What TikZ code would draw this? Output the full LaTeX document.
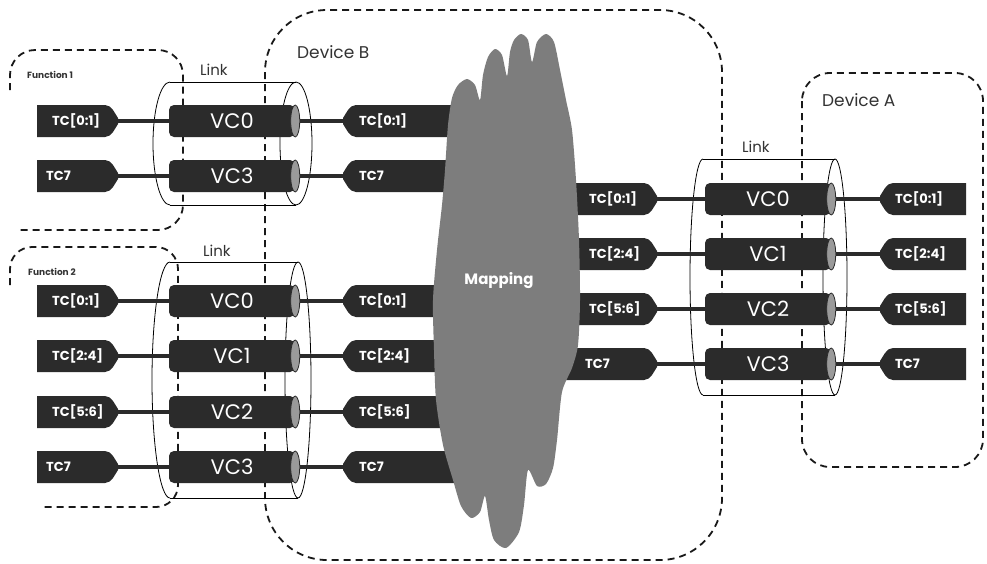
\documentclass[tikz,border=0pt]{standalone}
\usepackage{fontspec}
\setmainfont{Poppins}
\usetikzlibrary{calc}
\definecolor{bar}{HTML}{2B2B2B}
\definecolor{capc}{HTML}{9A9A9A}
\definecolor{cloudc}{HTML}{7D7D7D}
\definecolor{lbl}{HTML}{333333}
\tikzset{
 dashbox/.style={draw=black!90, line width=1.8pt, dash pattern=on 7pt off 5pt},
 cyl/.style={draw=black, line width=0.8pt},
 conn/.style={draw=bar, line width=3.5pt},
 tagtext/.style={text=white, font=\bfseries\fontsize{13}{13}\selectfont, anchor=west, inner sep=0pt},
 vcbox/.style={fill=bar, rounded corners=5pt, minimum width=126pt, minimum height=32pt, inner sep=0pt, text=white, font=\fontsize{21}{21}\selectfont},
 capfill/.style={fill=capc, draw=bar, line width=0.8pt},
 lbltext/.style={text=lbl, inner sep=0pt, anchor=west},
}
% tag with square left end and tip on the right
\newcommand{\tcR}[6]{%
  \fill[bar] (#2,#4-16) -- (#3-13,#4-16) .. controls (#3-6,#4-16) and (#3-3,#4-7) .. (#3,#4-3) -- (#3,#4+3) .. controls (#3-3,#4+7) and (#3-6,#4+16) .. (#3-13,#4+16) -- (#2,#4+16) -- cycle;
  \coordinate (#1) at (#3,#4);
  \node[tagtext] (#1t) at (#5,#4) {#6};
}
% tag with tip on the left and square right end
\newcommand{\tcL}[6]{%
  \fill[bar] (#3,#4-16) -- (#2+13,#4-16) .. controls (#2+6,#4-16) and (#2+3,#4-7) .. (#2,#4-3) -- (#2,#4+3) .. controls (#2+3,#4+7) and (#2+6,#4+16) .. (#2+13,#4+16) -- (#3,#4+16) -- cycle;
  \coordinate (#1) at (#2,#4);
  \node[tagtext] (#1t) at (#5,#4) {#6};
}
\newcommand{\vcbar}[4]{%
  \node[vcbox] (#1) at (#2,#3) {#4};
  \fill[capfill] (#1.east) ellipse [x radius=4.5pt, y radius=16pt];
}
\begin{document}
\begin{tikzpicture}[x=1pt,y=-1pt]
\useasboundingbox (0,0) rectangle (987,563);
\fill[white] (0,0) rectangle (987,563);

% dashed boundaries
\draw[dashbox, rounded corners=62pt] (265,10) rectangle (722,560);
\draw[dashbox, rounded corners=28pt] (802,73) rectangle (983,467);
\draw[dashbox, rounded corners=25pt] (10,90) |- (183,50) |- (16,230);
\draw[dashbox, rounded corners=22pt] (10,285) |- (178,247) |- (42,507);

% link cylinders
\draw[cyl] (170,82) -- (296,82) (170,205) -- (296,205);
\draw[cyl] (170,82) arc[start angle=90, end angle=270, x radius=17pt, y radius=61.5pt];
\draw[cyl] (296,143.5) ellipse [x radius=16pt, y radius=61.5pt];

\draw[cyl] (170,262) -- (298,262) (170,498) -- (298,498);
\draw[cyl] (170,262) arc[start angle=90, end angle=270, x radius=18pt, y radius=118pt];
\draw[cyl] (298,380) ellipse [x radius=13pt, y radius=118pt];

\draw[cyl] (703,159) -- (835,159) (703,395) -- (835,395);
\draw[cyl] (703,159) arc[start angle=90, end angle=270, x radius=13pt, y radius=118pt];
\draw[cyl] (835,277) ellipse [x radius=12pt, y radius=118pt];

% Function 1 / Device B top rows
\tcR{fa0}{37}{118}{121}{52}{TC[0:1]}
\tcR{fa3}{37}{118}{176}{46}{TC7}
\tcL{ba0}{343}{455}{121}{359}{TC[0:1]}
\tcL{ba3}{343}{455}{176}{359}{TC7}
\vcbar{la0}{232}{121}{VC0}
\vcbar{la3}{232}{176}{VC3}
\draw[conn] (fa0) -- (la0.west);
\draw[conn] (fa3) -- (la3.west);
\draw[conn] ($(la0.east)+(4.5,0)$) -- (ba0);
\draw[conn] ($(la3.east)+(4.5,0)$) -- (ba3);

% Function 2 / Device B lower rows
\tcR{fb0}{37}{118}{301}{52}{TC[0:1]}
\tcR{fb1}{37}{118}{356}{52}{TC[2:4]}
\tcR{fb2}{37}{118}{412}{52}{TC[5:6]}
\tcR{fb3}{37}{118}{467}{46}{TC7}
\tcL{bb0}{343}{455}{301}{359}{TC[0:1]}
\tcL{bb1}{343}{455}{356}{359}{TC[2:4]}
\tcL{bb2}{343}{455}{412}{359}{TC[5:6]}
\tcL{bb3}{343}{458}{467}{359}{TC7}
\vcbar{lb0}{232}{301}{VC0}
\vcbar{lb1}{232}{356}{VC1}
\vcbar{lb2}{232}{412}{VC2}
\vcbar{lb3}{232}{467}{VC3}
\foreach \i in {0,1,2,3}{
  \draw[conn] (fb\i) -- (lb\i.west);
  \draw[conn] ($(lb\i.east)+(4.5,0)$) -- (bb\i);
}

% Device B right side / Device A rows
\tcR{ra0}{555}{657}{199}{589}{TC[0:1]}
\tcR{ra1}{555}{657}{254}{589}{TC[2:4]}
\tcR{ra2}{555}{657}{309}{589}{TC[5:6]}
\tcR{ra3}{555}{657}{364}{585}{TC7}
\tcL{da0}{880}{966}{199}{895}{TC[0:1]}
\tcL{da1}{880}{966}{254}{895}{TC[2:4]}
\tcL{da2}{880}{966}{309}{895}{TC[5:6]}
\tcL{da3}{880}{966}{364}{895}{TC7}
\vcbar{lc0}{768}{199}{VC0}
\vcbar{lc1}{768}{254}{VC1}
\vcbar{lc2}{768}{309}{VC2}
\vcbar{lc3}{768}{364}{VC3}
\foreach \i in {0,1,2,3}{
  \draw[conn] (ra\i) -- (lc\i.west);
  \draw[conn] ($(lc\i.east)+(4.5,0)$) -- (da\i);
}

% mapping cloud
\fill[cloudc] plot[smooth cycle, tension=0.45] coordinates {
 (433,300) (437,250) (442,205) (445,170) (448,125) (452,98) (458,85) (467,79) (475,85) (480,100)
 (483,75) (488,57) (495,49) (502,55) (507,76)
 (510,52) (514,40) (521,34) (528,40) (532,62)
 (537,42) (546,34) (554,42) (560,70) (566,100) (572,130) (576,180) (579,240) (580,300) (578,345) (572,368) (562,392) (557,440) (553,468) (546,484) (537,486) (528,470)
 (524,505) (519,532) (506,548) (494,540) (489,520) (485,496)
 (480,512) (471,518) (461,506) (453,480) (443,445) (436,400) (434,350)};
\node[text=white, font=\bfseries\fontsize{15}{15}\selectfont, inner sep=0pt] (map) at (499,281) {Mapping};

% labels
\node[lbltext, font=\fontsize{17}{17}\selectfont] (devB) at (297,52) {Device B};
\node[lbltext, font=\fontsize{17}{17}\selectfont] (devA) at (822,100) {Device A};
\node[lbltext, font=\fontsize{15}{15}\selectfont] (link1) at (200,70) {Link};
\node[lbltext, font=\fontsize{15}{15}\selectfont] (link2) at (203,251) {Link};
\node[lbltext, font=\fontsize{15}{15}\selectfont] (link3) at (742,147) {Link};
\node[lbltext, font=\bfseries\fontsize{9}{9}\selectfont] (fn1) at (27,75) {Function 1};
\node[lbltext, font=\bfseries\fontsize{9}{9}\selectfont] (fn2) at (28,272) {Function 2};
\end{tikzpicture}
\end{document}
